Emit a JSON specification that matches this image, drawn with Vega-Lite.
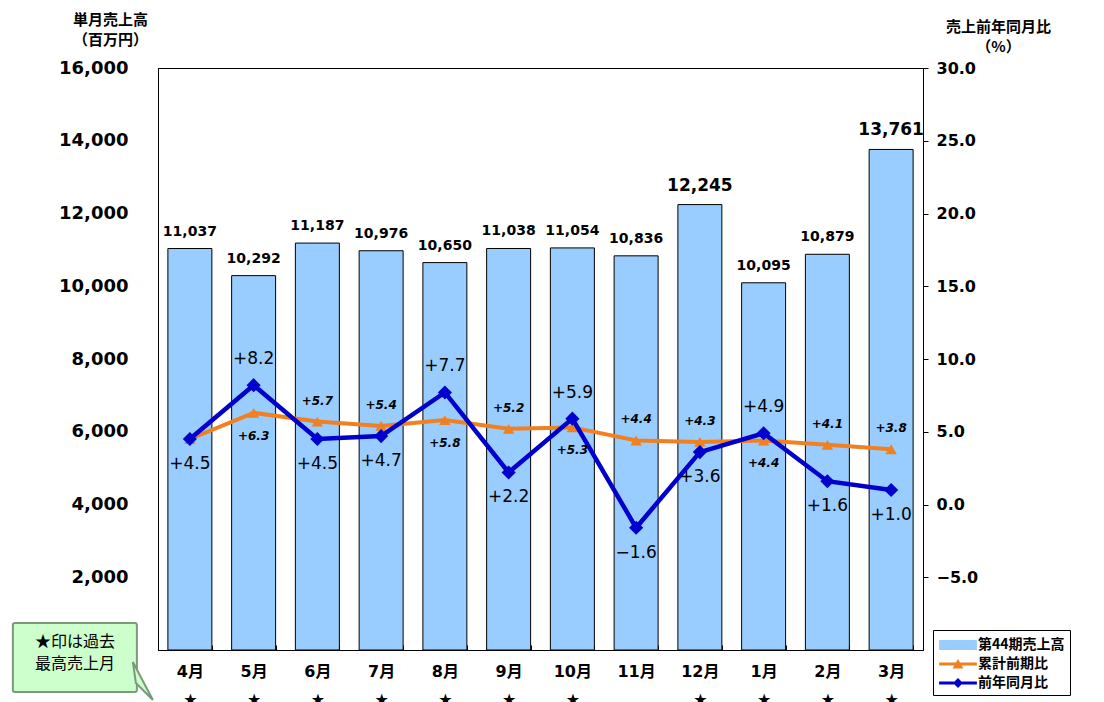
{
  "$schema": "https://vega.github.io/schema/vega-lite/v6.json",
  "width": 765,
  "height": 582,
  "autosize": {"type": "none"},
  "padding": {"left": 158, "top": 68, "right": 181, "bottom": 52},
  "background": "white",
  "config": {
    "view": {"stroke": "#000", "strokeWidth": 1},
    "font": "DejaVu Sans, Noto Sans CJK JP",
    "axis": {"grid": false, "domainColor": "#000", "tickColor": "#000", "labelColor": "#000", "titleColor": "#000"}
  },
  "data": {
    "values": [
      {"month": "4月", "sales": 11037, "cum": 4.5, "yoy": 4.5},
      {"month": "5月", "sales": 10292, "cum": 6.3, "yoy": 8.2},
      {"month": "6月", "sales": 11187, "cum": 5.7, "yoy": 4.5},
      {"month": "7月", "sales": 10976, "cum": 5.4, "yoy": 4.7},
      {"month": "8月", "sales": 10650, "cum": 5.8, "yoy": 7.7},
      {"month": "9月", "sales": 11038, "cum": 5.2, "yoy": 2.2},
      {"month": "10月", "sales": 11054, "cum": 5.3, "yoy": 5.9},
      {"month": "11月", "sales": 10836, "cum": 4.4, "yoy": -1.6},
      {"month": "12月", "sales": 12245, "cum": 4.3, "yoy": 3.6},
      {"month": "1月", "sales": 10095, "cum": 4.4, "yoy": 4.9},
      {"month": "2月", "sales": 10879, "cum": 4.1, "yoy": 1.6},
      {"month": "3月", "sales": 13761, "cum": 3.8, "yoy": 1.0}
    ]
  },
  "encoding": {
    "x": {
      "field": "month",
      "type": "nominal",
      "sort": null,
      "scale": {"paddingInner": 0.31, "paddingOuter": 0.155},
      "axis": {
        "title": null,
        "labelAngle": 0,
        "labelFont": "DejaVu Sans, Noto Sans CJK JP",
        "labelFontSize": 16,
        "labelFontWeight": "bold",
        "labelBaseline": "top",
        "labelPadding": 18,
        "labelLineHeight": 28,
        "tickBand": "extent",
        "tickSize": -5,
        "labelExpr": "datum.extra ? '' : (datum.value == '11月' ? [datum.value, ''] : [datum.value, '★'])"
      }
    }
  },
  "layer": [
    {
      "encoding": {
        "y": {
          "field": "sales",
          "type": "quantitative",
          "scale": {"domain": [0, 16000], "nice": false},
          "axis": {
            "orient": "left",
            "values": [0, 2000, 4000, 6000, 8000, 10000, 12000, 14000, 16000],
            "format": ",.0f",
            "ticks": false,
            "labelPadding": 30,
            "labelFont": "DejaVu Sans",
            "labelFontSize": 18,
            "labelFontWeight": "bold",
            "title": ["単月売上高", "（百万円）"],
            "titleFont": "Noto Sans CJK JP",
            "titleFontSize": 15,
            "titleFontWeight": "bold",
            "titleAngle": 0,
            "titleAlign": "center",
            "titleBaseline": "top",
            "titleLineHeight": 20,
            "titleX": -48,
            "titleY": -56
          }
        }
      },
      "layer": [
        {"mark": {"type": "bar", "fill": "#99CCFF", "stroke": "#000", "strokeWidth": 1}},
        {
          "mark": {"type": "text", "baseline": "bottom", "dy": -10, "fontWeight": "bold", "font": "DejaVu Sans", "color": "#000"},
          "encoding": {
            "text": {"field": "sales", "type": "quantitative", "format": ",.0f"},
            "size": {"condition": {"test": "datum.sales > 12000", "value": 17}, "value": 14}
          }
        }
      ]
    },
    {
      "transform": [{"filter": "datum.month == '4月'"}],
      "mark": {"type": "bar", "fill": "#CCFFCC", "stroke": "#7A9A7A", "strokeWidth": 2, "width": 124, "xOffset": -115, "cornerRadius": 2},
      "encoding": {
        "y": {"datum": 742, "type": "quantitative", "scale": {"domain": [0, 16000], "nice": false}, "axis": null},
        "y2": {"datum": -1155}
      }
    },
    {
      "transform": [{"filter": "datum.month == '4月'"}],
      "mark": {"type": "point", "shape": "M-1.2,-2.8L0.8,1.0L-0.9,-0.7Z", "size": 400, "filled": true, "fill": "#CCFFCC", "stroke": "#7A9A7A", "strokeWidth": 2, "opacity": 1, "xOffset": -45},
      "encoding": {
        "y": {"datum": -1100, "type": "quantitative", "scale": {"domain": [0, 16000], "nice": false}, "axis": null}
      }
    },
    {
      "transform": [{"filter": "datum.month == '4月'"}],
      "mark": {"type": "text", "lineHeight": 22, "dx": -115, "fontSize": 16, "font": "Noto Sans CJK JP", "color": "#000", "baseline": "middle"},
      "encoding": {
        "y": {"datum": 220, "type": "quantitative", "scale": {"domain": [0, 16000], "nice": false}, "axis": null},
        "text": {"value": ["★印は過去", "最高売上月"]}
      }
    },
    {
      "mark": {"type": "line", "strokeWidth": 4, "color": "#F08020"},
      "encoding": {
        "y": {
          "field": "cum",
          "type": "quantitative",
          "scale": {"domain": [-10, 30], "nice": false},
          "axis": {
            "orient": "right",
            "values": [-5, 0, 5, 10, 15, 20, 25, 30],
            "format": ".1f",
            "tickSize": 5,
            "labelPadding": 8,
            "labelFont": "DejaVu Sans",
            "labelFontSize": 16,
            "labelFontWeight": "bold",
            "title": ["売上前年同月比", "（%）"],
            "titleFont": "Noto Sans CJK JP",
            "titleFontSize": 15,
            "titleFontWeight": "bold",
            "titleAngle": 0,
            "titleAlign": "center",
            "titleBaseline": "top",
            "titleLineHeight": 20,
            "titleX": 75,
            "titleY": -49
          }
        }
      }
    },
    {
      "mark": {"type": "point", "shape": "triangle-up", "filled": true, "size": 130, "color": "#F08020", "opacity": 1},
      "encoding": {"y": {"field": "cum", "type": "quantitative", "scale": {"domain": [-10, 30], "nice": false}, "axis": null}}
    },
    {
      "mark": {"type": "line", "strokeWidth": 4.5, "color": "#0000CC"},
      "encoding": {"y": {"field": "yoy", "type": "quantitative", "scale": {"domain": [-10, 30], "nice": false}, "axis": null}}
    },
    {
      "mark": {"type": "point", "shape": "diamond", "filled": true, "size": 200, "color": "#0000CC", "opacity": 1},
      "encoding": {"y": {"field": "yoy", "type": "quantitative", "scale": {"domain": [-10, 30], "nice": false}, "axis": null}}
    },
    {
      "transform": [
        {"window": [{"op": "lag", "field": "yoy", "as": "yprev"}, {"op": "lead", "field": "yoy", "as": "ynext"}]},
        {"filter": "datum.yoy > datum.yprev && datum.yoy > datum.ynext"}
      ],
      "mark": {"type": "text", "fontSize": 17, "dy": -26, "baseline": "middle", "font": "DejaVu Sans", "color": "#000"},
      "encoding": {
        "y": {"field": "yoy", "type": "quantitative", "scale": {"domain": [-10, 30], "nice": false}, "axis": null},
        "text": {"field": "yoy", "type": "quantitative", "format": "+.1f"}
      }
    },
    {
      "transform": [
        {"window": [{"op": "lag", "field": "yoy", "as": "yprev"}, {"op": "lead", "field": "yoy", "as": "ynext"}]},
        {"filter": "!(datum.yoy > datum.yprev && datum.yoy > datum.ynext)"}
      ],
      "mark": {"type": "text", "fontSize": 17, "dy": 25, "baseline": "middle", "font": "DejaVu Sans", "color": "#000"},
      "encoding": {
        "y": {"field": "yoy", "type": "quantitative", "scale": {"domain": [-10, 30], "nice": false}, "axis": null},
        "text": {"field": "yoy", "type": "quantitative", "format": "+.1f"}
      }
    },
    {
      "transform": [
        {"window": [{"op": "lag", "field": "cum", "as": "cprev"}, {"op": "lead", "field": "cum", "as": "cnext"}]},
        {"filter": "datum.cprev != null && !(datum.cum > datum.cprev && datum.cum > datum.cnext)"}
      ],
      "mark": {"type": "text", "fontSize": 12, "dy": -21, "baseline": "middle", "font": "DejaVu Sans", "fontStyle": "italic", "fontWeight": "bold", "color": "#000"},
      "encoding": {
        "y": {"field": "cum", "type": "quantitative", "scale": {"domain": [-10, 30], "nice": false}, "axis": null},
        "text": {"field": "cum", "type": "quantitative", "format": "+.1f"}
      }
    },
    {
      "transform": [
        {"window": [{"op": "lag", "field": "cum", "as": "cprev"}, {"op": "lead", "field": "cum", "as": "cnext"}]},
        {"filter": "datum.cprev != null && datum.cum > datum.cprev && datum.cum > datum.cnext"}
      ],
      "mark": {"type": "text", "fontSize": 12, "dy": 23, "baseline": "middle", "font": "DejaVu Sans", "fontStyle": "italic", "fontWeight": "bold", "color": "#000"},
      "encoding": {
        "y": {"field": "cum", "type": "quantitative", "scale": {"domain": [-10, 30], "nice": false}, "axis": null},
        "text": {"field": "cum", "type": "quantitative", "format": "+.1f"}
      }
    },
    {
      "transform": [{"filter": "false"}],
      "mark": {"type": "point", "filled": true, "opacity": 1},
      "encoding": {
        "color": {
          "datum": "第44期売上高",
          "scale": {"domain": ["第44期売上高", "累計前期比", "前年同月比"], "range": ["#99CCFF", "#F08020", "#0000CC"]},
          "legend": {
            "orient": "none", "legendX": 775, "legendY": 562, "title": null,
            "fillColor": "white", "strokeColor": "#000", "padding": 5, "rowPadding": 2,
            "symbolSize": 324, "symbolOffset": 10, "labelOffset": 10,
            "labelFont": "Noto Sans CJK JP", "labelFontSize": 14, "labelFontWeight": "bold", "labelColor": "#000"
          }
        },
        "shape": {
          "datum": "第44期売上高",
          "scale": {
            "domain": ["第44期売上高", "累計前期比", "前年同月比"],
            "range": [
              "M-2.1,-0.55H2.1V0.55H-2.1Z",
              "M-2.1,-0.18H2.1V0.18H-2.1Z M-0.6,0.5L0,-0.55L0.6,0.5Z",
              "M-2.1,-0.18H2.1V0.18H-2.1Z M-0.55,0L0,-0.55L0.55,0L0,0.55Z"
            ]
          },
          "legend": {
            "orient": "none", "legendX": 775, "legendY": 562, "title": null,
            "fillColor": "white", "strokeColor": "#000", "padding": 5, "rowPadding": 2,
            "symbolSize": 324, "symbolOffset": 10, "labelOffset": 10,
            "labelFont": "Noto Sans CJK JP", "labelFontSize": 14, "labelFontWeight": "bold", "labelColor": "#000"
          }
        }
      }
    }
  ],
  "resolve": {"scale": {"y": "independent"}, "axis": {"y": "independent"}}
}
